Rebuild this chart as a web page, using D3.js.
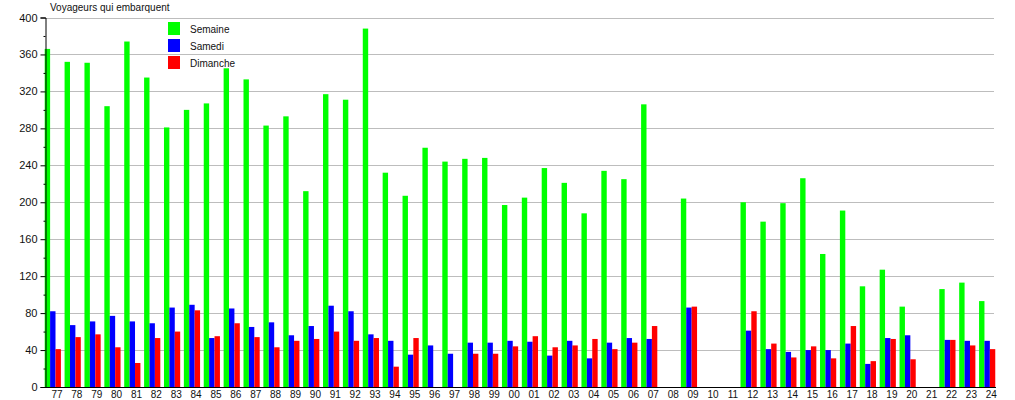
<!DOCTYPE html>
<html>
<head>
<meta charset="utf-8">
<script src="https://cdn.jsdelivr.net/npm/d3@7"></script>
<style>
  body { margin: 0; background: #fff; }
  text { font-family: "Liberation Sans", Arial, sans-serif; fill: #111; }
</style>
</head>
<body>
<script>
var cats = ["77","78","79","80","81","82","83","84","85","86","87","88","89","90","91","92","93","94","95","96","97","98","99",
  "00","01","02","03","04","05","06","07","08","09","10","11","12","13","14","15","16","17","18","19","20","21","22","23","24"]

var semaine = [366,352,351,304,374,335,281,300,307,345,333,283,293,212,317,311,388,232,207,259,244,247,248,
  197,205,237,221,188,234,225,306,0,204,0,0,200,179,199,226,144,191,109,127,87,0,106,113,93]
var samedi = [82,67,71,77,71,69,86,89,53,85,65,70,56,66,88,82,57,50,35,45,36,48,48,
  50,49,34,50,31,48,53,52,0,86,0,0,61,41,38,40,40,47,25,53,56,0,51,50,50]
var dimanche = [41,54,57,43,26,53,60,83,55,69,54,43,50,52,60,50,53,22,53,0,0,36,36,
  44,55,43,45,52,41,48,66,0,87,0,0,82,47,32,44,31,66,28,52,30,0,51,45,41]

var seriesNames = ["Semaine","Samedi","Dimanche"]
var colors = ["#00ff00","#0000ff","#ff0000"]
var yTicks = d3.range(0, 401, 40)
var yMinor = d3.range(20, 400, 40)

var width = 1015, height = 400
var mLeft = 45, mTop = 17.5, mBottom = 387
var band = 19.88

var svg = d3.select("body").append("svg").attr("width", width).attr("height", height)

var x = d3.scaleBand().domain(cats).range([mLeft, mLeft + band * cats.length]).padding(0)
var y = d3.scaleLinear().domain([0, 400]).range([mBottom, mTop])
var xs = d3.scaleBand().domain(seriesNames).range([-0.3, 15.9]).padding(0)

// grid
svg.append("g").selectAll("line").data(yTicks.slice(1)).enter().append("line")
  .attr("x1", mLeft).attr("x2", 994)
  .attr("y1", d => Math.round(y(d)) + 0.5).attr("y2", d => Math.round(y(d)) + 0.5)
  .attr("stroke", "#bdbdbd").attr("stroke-width", 1)

// bars
var data = [semaine, samedi, dimanche]
data.forEach(function(vals, k) {
  svg.append("g").selectAll("rect").data(vals).enter().append("rect")
    .attr("x", (d, i) => x(cats[i]) + xs(seriesNames[k]))
    .attr("width", xs.bandwidth())
    .attr("y", d => y(d))
    .attr("height", d => mBottom - y(d))
    .attr("fill", colors[k])
})

// y axis
var yAxis = svg.append("g").attr("transform", "translate(" + (mLeft + 0.5) + ",0)")
  .call(d3.axisLeft(y).tickValues(yTicks).tickSize(5).tickPadding(3).tickFormat(d3.format("d")))
yAxis.select(".domain").attr("stroke", "#000")
yAxis.selectAll(".tick line").attr("stroke", "#000")
yAxis.selectAll("text").style("font-size", "11px").attr("fill", "#111")

svg.append("g").attr("transform", "translate(" + (mLeft + 0.5) + ",0)")
  .call(d3.axisLeft(y).tickValues(yMinor).tickSize(2).tickFormat(""))
  .call(g => g.select(".domain").remove())

// x axis
svg.append("line").attr("x1", mLeft).attr("x2", 996)
  .attr("y1", mBottom + 0.5).attr("y2", mBottom + 0.5).attr("stroke", "#000")

var xAxis = svg.append("g").attr("transform", "translate(2," + mBottom + ")")
  .call(d3.axisBottom(x).tickSize(0).tickPadding(4))
xAxis.select(".domain").remove()
xAxis.selectAll("text").style("font-size", "10px").attr("fill", "#111")

// title
svg.append("text").attr("x", 50).attr("y", 11).style("font-size", "10px").text("Voyageurs qui embarquent")

// legend
var legend = svg.append("g")
seriesNames.forEach(function(name, k) {
  legend.append("rect").attr("x", 168).attr("y", 22 + k * 17).attr("width", 12).attr("height", 13).attr("fill", colors[k])
  legend.append("text").attr("x", 190).attr("y", 33 + k * 17).style("font-size", "10px").text(name)
})
</script>
</body>
</html>
